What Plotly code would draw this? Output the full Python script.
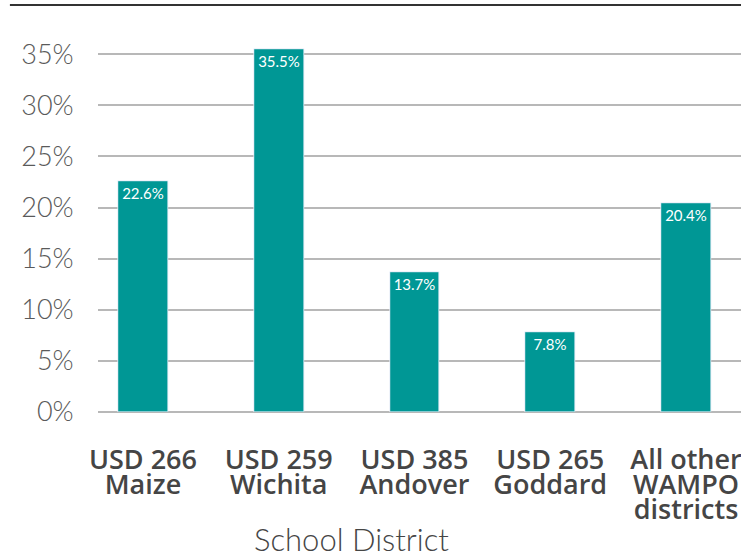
import plotly.graph_objects as go

# ---- data ----
districts = ["USD 266\nMaize", "USD 259\nWichita", "USD 385\nAndover",
             "USD 265\nGoddard", "All other\nWAMPO\ndistricts"]
shares = [22.6, 35.5, 13.7, 7.8, 20.4]
share_labels = ["22.6%", "35.5%", "13.7%", "7.8%", "20.4%"]
y_ticks = [0, 5, 10, 15, 20, 25, 30, 35]
x_title = "School District"

# ---- styles ----
BAR = "#009795"
GRID = "#b8b8b8"
XLAB = "#454545"
YLAB = "#5a5a5a"

pos = list(range(len(districts)))
lines = [d.split("\n") for d in districts]
nlines = max(len(l) for l in lines)
row_text = [[(l[i] if i < len(l) else "") for l in lines] for i in range(nlines)]

fig = go.Figure()
fig.add_trace(go.Bar(
    x=pos, y=shares, width=0.368,
    marker=dict(color=BAR, line=dict(width=0)),
    text=share_labels, textposition="inside", insidetextanchor="end",
    textfont=dict(family="Lato", size=15, color="white"),
    textangle=0, cliponaxis=False, hoverinfo="skip", showlegend=False,
))

xrange = [-0.331, 4.405]
base_len = 24
line_step = 25
xfont = dict(family="Open Sans", size=27, color=XLAB, weight=600)

layout_axes = {}
for i, txt in enumerate(row_text):
    key = "xaxis" if i == 0 else f"xaxis{i+1}"
    ax = dict(range=xrange, tickmode="array", tickvals=pos, ticktext=txt,
              ticks="outside", ticklen=base_len + i * line_step,
              tickcolor="rgba(0,0,0,0)", tickfont=xfont,
              ticklabeloverflow="allow",
              showgrid=False, zeroline=False, showline=False,
              fixedrange=True)
    if i > 0:
        ax.update(overlaying="x", anchor="y", side="bottom")
        # invisible companion trace so the overlaid label axis is drawn
        fig.add_trace(go.Bar(x=pos, y=shares, width=0.368, xaxis=f"x{i+1}",
                             marker=dict(color="rgba(0,0,0,0)"),
                             hoverinfo="skip", showlegend=False))
    layout_axes[key] = ax

fig.update_layout(
    width=741, height=557,
    margin=dict(l=98, r=0, t=3, b=145, autoexpand=False),
    paper_bgcolor="white", plot_bgcolor="white",
    bargap=0,
    yaxis=dict(range=[0, 40], tickmode="array", tickvals=y_ticks,
               ticktext=[f"{v}%" for v in y_ticks],
               showgrid=True, gridcolor=GRID, gridwidth=1.5,
               zeroline=True, zerolinecolor=GRID, zerolinewidth=1.5,
               showline=False, ticks="outside", ticklen=18,
               tickcolor="rgba(0,0,0,0)",
               tickfont=dict(family="Lato", size=27, color=YLAB, weight=300),
               fixedrange=True),
    **layout_axes,
    shapes=[dict(type="line", xref="paper", yref="paper",
                 x0=-0.137, x1=1.0, y0=0.995, y1=0.995,
                 line=dict(color="#333333", width=2))],
    annotations=[dict(text=x_title, xref="paper", yref="paper",
                      x=0.3935, y=-0.311, xanchor="center", yanchor="middle",
                      showarrow=False,
                      font=dict(family="Lato", size=31, color=XLAB, weight=300))],
)

fig.write_html("out.html", config={"displayModeBar": False},
               post_script="document.body.style.margin='0';")
